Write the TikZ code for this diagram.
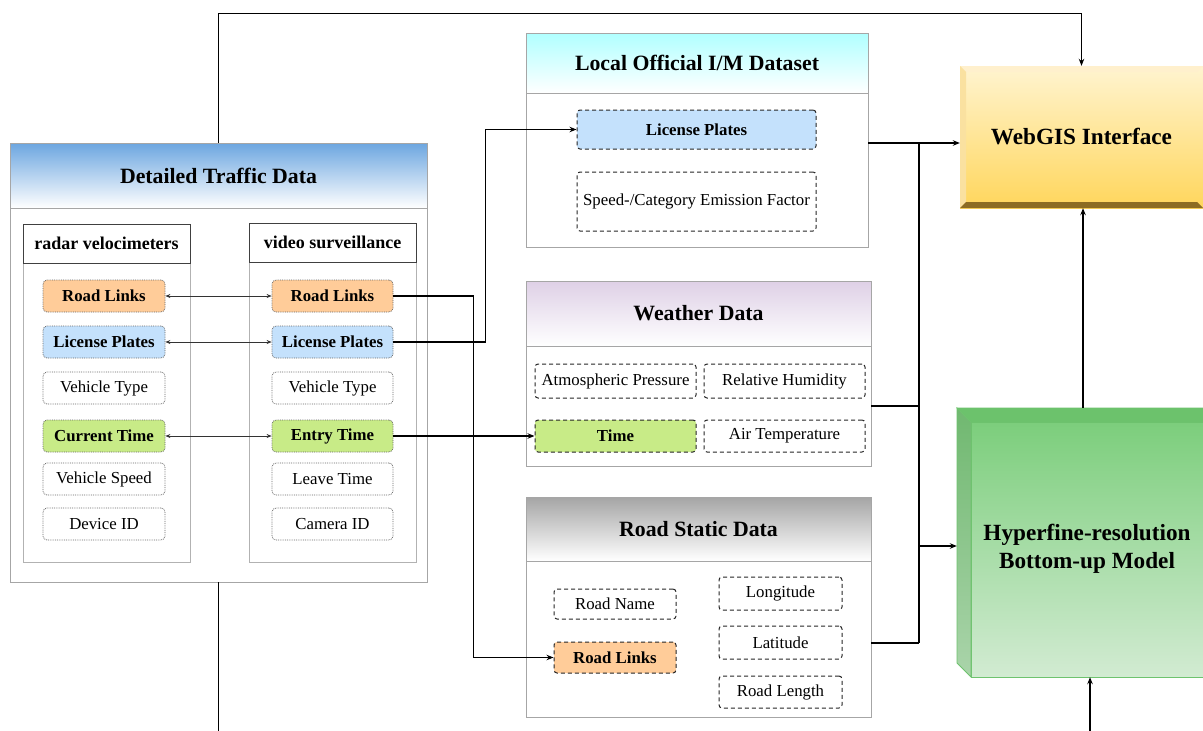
\documentclass[tikz,border=0pt]{standalone}
\usepackage{fontspec}
\setmainfont{Liberation Serif}
\usetikzlibrary{arrows.meta,calc}
\newcommand{\myTitleFont}{\fontsize{21.8}{26}\selectfont\bfseries}
\newcommand{\mySubFont}{\fontsize{18}{21}\selectfont\bfseries}
\newcommand{\myItemFont}{\fontsize{16.8}{19}\selectfont}
\newcommand{\myBigFont}{\fontsize{23.2}{28}\selectfont\bfseries}
\definecolor{orF}{RGB}{255,204,153}
\definecolor{blF}{RGB}{196,225,252}
\definecolor{grF}{RGB}{200,235,135}
\definecolor{hdBlue}{RGB}{108,166,224}
\definecolor{hdCyan}{RGB}{176,255,255}
\definecolor{hdPurp}{RGB}{222,208,230}
\definecolor{hdGray}{RGB}{165,165,165}
\definecolor{ywTop}{RGB}{255,244,208}
\definecolor{ywBot}{RGB}{255,214,92}
\definecolor{ywLite}{RGB}{255,240,205}
\definecolor{ywSide}{RGB}{250,225,160}
\definecolor{ywDark}{RGB}{140,108,35}
\definecolor{gnTop}{RGB}{124,206,124}
\definecolor{gnBot}{RGB}{210,235,210}
\definecolor{gnLine}{RGB}{110,195,110}
\definecolor{gnRoof}{RGB}{108,194,108}
\definecolor{gnSideT}{RGB}{112,184,112}
\definecolor{gnSideB}{RGB}{170,212,170}
\newcommand{\mybox}[7]{%
  \pgfmathsetmacro\bxw{#4-#2}\pgfmathsetmacro\bxh{#5-#3}%
  \pgfmathsetmacro\bxx{(#2+#4)/2}\pgfmathsetmacro\bxy{(#3+#5)/2}%
  \node[#6, minimum width=\bxw pt, minimum height=\bxh pt] (#1) at (\bxx,\bxy) {#7};}
\begin{document}
\begin{tikzpicture}[x=1pt,y=-1pt,
  panel/.style={draw=black!35, line width=0.8pt, inner sep=0},
  phead/.style={draw=black!35, line width=0.8pt, inner sep=0, font=\myTitleFont, bottom color=white},
  subhead/.style={draw=black!75, line width=0.7pt, fill=white, inner sep=0, font=\mySubFont},
  subbody/.style={draw=black!30, line width=0.7pt, inner sep=0},
  dotitem/.style={draw=black!60, densely dotted, line width=0.8pt, rounded corners=4pt, inner sep=0, font=\myItemFont},
  dashitem/.style={draw=black!85, dash pattern=on 4pt off 3pt, line width=1pt, rounded corners=3pt, inner sep=0, font=\myItemFont},
  bld/.style={font=\myItemFont\bfseries},
  arr/.style={draw=black, line width=1.1pt, -{Stealth[length=7pt,width=5.5pt]}},
  darr/.style={draw=black!80, line width=0.7pt, {Stealth[length=5pt,width=4pt]}-{Stealth[length=5pt,width=4pt]}},
  wire/.style={draw=black, line width=1.1pt}]
\useasboundingbox (0,0) rectangle (1203,731);
\fill[white] (0,0) rectangle (1203,731);

% ---------- Detailed Traffic Data ----------
\mybox{dtd}{10}{143}{427}{582}{panel}{}
\mybox{dtdh}{10}{143}{427}{208}{phead, top color=hdBlue}{Detailed Traffic Data}
\mybox{radb}{23}{224}{190}{562}{subbody}{}
\mybox{radh}{23}{224}{190}{263}{subhead}{radar velocimeters}
\mybox{vidb}{249}{223}{416}{562}{subbody}{}
\mybox{vidh}{249}{223}{416}{262}{subhead}{video surveillance}

\mybox{r1}{43}{280}{165}{312}{dotitem,fill=orF,bld}{Road Links}
\mybox{r2}{43}{326}{165}{358}{dotitem,fill=blF,bld}{License Plates}
\mybox{r3}{43}{372}{165}{404}{dotitem}{Vehicle Type}
\mybox{r4}{43}{420}{165}{452}{dotitem,fill=grF,bld}{Current Time}
\mybox{r5}{43}{463}{165}{495}{dotitem}{Vehicle Speed}
\mybox{r6}{43}{508}{165}{540}{dotitem}{Device ID}

\mybox{v1}{272}{280}{393}{312}{dotitem,fill=orF,bld}{Road Links}
\mybox{v2}{272}{326}{393}{358}{dotitem,fill=blF,bld}{License Plates}
\mybox{v3}{272}{372}{393}{404}{dotitem}{Vehicle Type}
\mybox{v4}{272}{420}{393}{452}{dotitem,fill=grF,bld}{Entry Time}
\mybox{v5}{272}{463}{393}{495}{dotitem}{Leave Time}
\mybox{v6}{272}{508}{393}{540}{dotitem}{Camera ID}

\draw[darr] (r1.east) -- (v1.west);
\draw[darr] (r2.east) -- (v2.west);
\draw[darr] (r4.east) -- (v4.west);

% ---------- Local Official I/M Dataset ----------
\mybox{im}{526}{33}{868}{247}{panel}{}
\mybox{imh}{526}{33}{868}{93}{phead, top color=hdCyan}{Local Official I/M Dataset}
\mybox{imlp}{577}{110}{816}{149}{dashitem,fill=blF,bld}{License Plates}
\mybox{imef}{577}{172}{816}{231}{dashitem}{Speed-/Category Emission Factor}

% ---------- Weather Data ----------
\mybox{wd}{526}{281}{871}{466}{panel}{}
\mybox{wdh}{526}{281}{871}{346}{phead, top color=hdPurp}{Weather Data}
\mybox{wap}{535}{364}{696}{398}{dashitem}{Atmospheric Pressure}
\mybox{wrh}{704}{364}{865}{398}{dashitem}{Relative Humidity}
\mybox{wt}{535}{420}{696}{452}{dashitem,fill=grF,bld}{Time}
\mybox{wat}{704}{420}{865}{452}{dashitem}{Air Temperature}

% ---------- Road Static Data ----------
\mybox{rs}{526}{497}{871}{717}{panel}{}
\mybox{rsh}{526}{497}{871}{561}{phead, top color=hdGray}{Road Static Data}
\mybox{srn}{554}{589}{676}{619}{dashitem}{Road Name}
\mybox{srl}{554}{642}{676}{673}{dashitem,fill=orF,bld}{Road Links}
\mybox{slo}{719}{577}{842}{610}{dashitem}{Longitude}
\mybox{sla}{719}{626}{842}{659}{dashitem}{Latitude}
\mybox{sle}{719}{676}{842}{708}{dashitem}{Road Length}

% ---------- WebGIS Interface ----------
\shade[top color=ywTop, bottom color=ywBot] (960,66) rectangle (1203,208);
\fill[ywLite] (960,66) -- (1203,66) -- (1197,72) -- (966,72) -- cycle;
\fill[ywSide] (960,66) -- (966,72) -- (966,202) -- (960,208) -- cycle;
\fill[ywDark] (960,208) -- (1203,208) -- (1197,202) -- (966,202) -- cycle;
\mybox{web}{960}{66}{1203}{208}{inner sep=0, font=\myBigFont}{WebGIS Interface}

% ---------- Hyperfine-resolution Bottom-up Model ----------
\mybox{hyper}{957}{408}{1203}{677}{inner sep=0}{}
\shade[top color=gnTop, bottom color=gnBot, draw=gnLine, line width=0.8pt] (971,422) rectangle (1203,677);
\fill[fill=gnRoof, draw=gnLine, line width=0.8pt] (957,408) -- (1203,408) -- (1203,422) -- (971,422) -- cycle;
\shade[top color=gnSideT, bottom color=gnSideB, draw=gnLine, line width=0.8pt] (957,408) -- (971,422) -- (971,677) -- (957,663) -- cycle;
\node[font=\myBigFont, align=center, inner sep=0] (hypert) at (1087,549) {Hyperfine-resolution\\Bottom-up Model};

% ---------- connectors ----------
\draw[arr] (v1.east) -- ++(80,0) |- (srl.west);
\draw[arr] (v2.east) -- ++(92,0) |- (imlp.west);
\draw[arr] (v4.east) -- (wt.west);

\draw[arr] (dtd.north) -- ++(0,-129) -| (web.north);
\draw[wire] (dtd.south) -- ++(0,150);

\coordinate (ya) at (0,143);
\coordinate (yb) at (0,406);
\coordinate (yc) at (0,643);
\coordinate (yd) at (0,546);
\coordinate (bus1) at (919,143);
\coordinate (bus2) at (919,643);
\draw[arr] (im.east |- ya) -- (web.west |- ya);
\draw[wire] (bus1) -- (bus2);
\draw[wire] (wd.east |- yb) -- (bus1 |- yb);
\draw[wire] (rs.east |- yc) -- (bus2);
\draw[arr] (bus1 |- yd) -- (hyper.west |- yd);

\coordinate (xw) at (1083,0);
\coordinate (xb) at (1090,0);
\draw[arr] (hyper.north -| xw) -- (web.south -| xw);
\coordinate (bot) at (1090,731);
\draw[arr] (bot) -- (hyper.south -| xb);
\end{tikzpicture}
\end{document}
